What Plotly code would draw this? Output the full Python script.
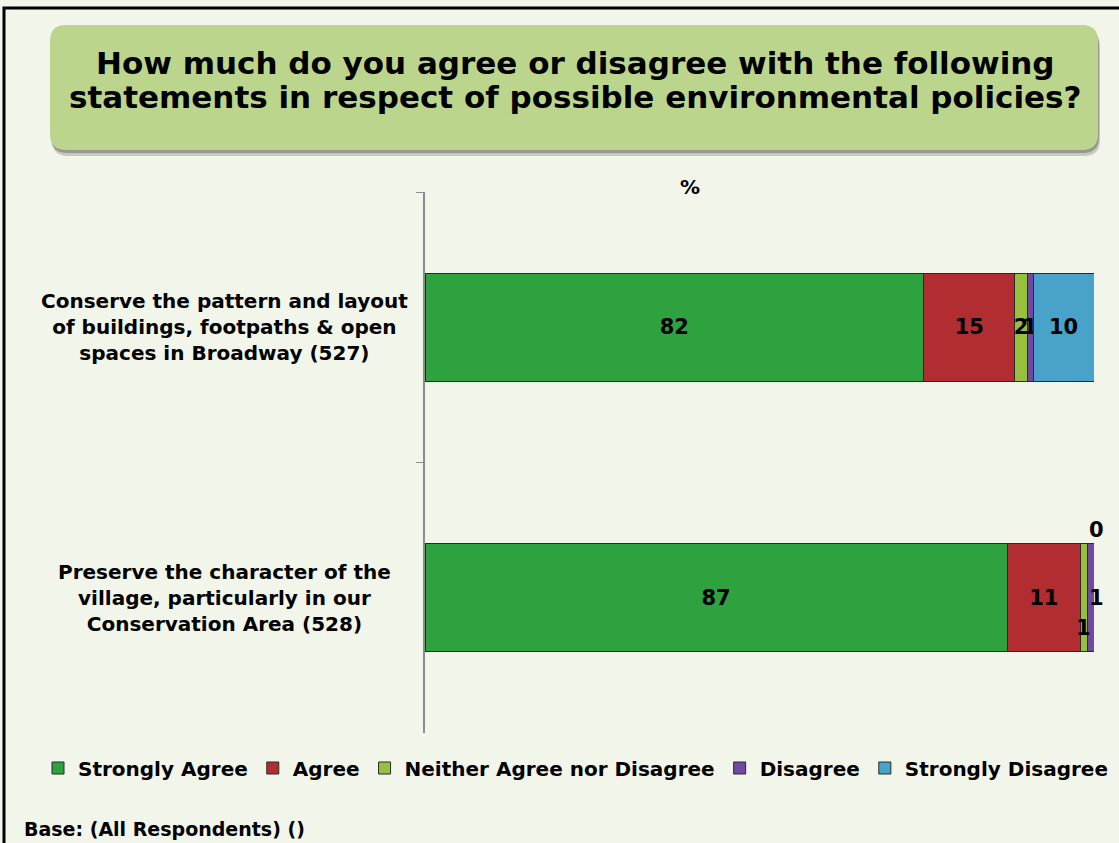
import plotly.graph_objects as go

# Survey statements and response shares (%)
statements = [
    "Conserve the pattern and layout<br>of buildings, footpaths & open<br>spaces in Broadway (527)",
    "Preserve the character of the<br>village, particularly in our<br>Conservation Area (528)",
]
responses = ["Strongly Agree", "Agree", "Neither Agree nor Disagree", "Disagree", "Strongly Disagree"]
strongly_agree = [82, 87]
agree = [15, 11]
neither = [2, 1]
disagree = [1, 1]
strongly_disagree = [10, 0]
series = [strongly_agree, agree, neither, disagree, strongly_disagree]
colors = ["#2ea23f", "#b22d31", "#97c03d", "#7149a2", "#48a2c9"]
title_lines = [
    "How much do you agree or disagree with the following",
    "statements in respect of possible environmental policies?",
]

W, H = 1119, 843
ML, MR, MT, MB = 425, 25, 192, 110
PW, PH = W - ML - MR, H - MT - MB


def px(x):
    return (x - ML) / PW


def py(y):
    return (H - MB - y) / PH


def rounded(x0, y0, x1, y1, r):
    # rounded rectangle path in paper coordinates from pixel corners
    return (f"M {px(x0 + r)},{py(y0)} L {px(x1 - r)},{py(y0)} "
            f"Q {px(x1)},{py(y0)} {px(x1)},{py(y0 + r)} "
            f"L {px(x1)},{py(y1 - r)} Q {px(x1)},{py(y1)} {px(x1 - r)},{py(y1)} "
            f"L {px(x0 + r)},{py(y1)} Q {px(x0)},{py(y1)} {px(x0)},{py(y1 - r)} "
            f"L {px(x0)},{py(y0 + r)} Q {px(x0)},{py(y0)} {px(x0 + r)},{py(y0)} Z")


FONT = "DejaVu Sans"
fig = go.Figure()

# Row 2 tiny segments get their labels as offset annotations
hide_inside = {(1, 2), (1, 3), (1, 4)}
for k, (name, vals, col) in enumerate(zip(responses, series, colors)):
    txt = ["" if (i, k) in hide_inside else str(v) for i, v in enumerate(vals)]
    fig.add_trace(go.Bar(
        name=name, y=statements, x=vals, orientation="h",
        marker=dict(color=col, line=dict(color="#2a2a2a", width=1)),
        text=txt, texttemplate="%{text}", textposition="inside",
        insidetextanchor="middle",
        textfont=dict(family=FONT, size=21, color="black", weight="bold"),
        hoverinfo="skip",
    ))

annotations = []
# offset labels for the small segments of the second statement
tot = sum(s[1] for s in series)
cum = 0
centers = []
for s in series:
    centers.append((cum + s[1] / 2) / tot * 100)
    cum += s[1]
offsets = {2: (0, -30), 3: (6, 0), 4: (2, 68)}
for k, (dx, dy) in offsets.items():
    annotations.append(dict(
        x=centers[k], y=statements[1], xref="x", yref="y", text=str(series[k][1]),
        showarrow=False, xshift=dx, yshift=dy,
        font=dict(family=FONT, size=21, color="black", weight="bold")))

# category labels, centred multi-line
for s in statements:
    annotations.append(dict(
        x=px(224), y=s, xref="paper", yref="y", text=s, showarrow=False,
        xanchor="center", align="center",
        font=dict(family=FONT, size=20, color="black", weight="bold")))

for line, yc in zip(title_lines, [63, 97]):
    annotations.append(dict(
        x=px(575), y=py(yc), xref="paper", yref="paper", showarrow=False, text=line,
        xanchor="center", yanchor="middle",
        font=dict(family=FONT, size=31, color="black", weight="bold")))

annotations += [
    dict(x=px(690), y=py(187), xref="paper", yref="paper", showarrow=False, text="%",
         xanchor="center", yanchor="middle",
         font=dict(family=FONT, size=20, color="black", weight="bold")),
    dict(x=px(22), y=py(829), xref="paper", yref="paper", showarrow=False,
         text="Base: (All Respondents) ()", xanchor="left", yanchor="middle",
         font=dict(family=FONT, size=19, color="black", weight="bold")),
]

shapes = [
    # page frame
    dict(type="rect", xref="paper", yref="paper", x0=px(4), y0=py(8), x1=px(1140), y1=py(870),
         line=dict(color="black", width=3), layer="below"),
    # title panel shadow and panel
    dict(type="path", xref="paper", yref="paper", path=rounded(52, 31, 1100, 156, 16),
         fillcolor="rgba(70,70,70,0.25)", line=dict(width=0), layer="below"),
    dict(type="path", xref="paper", yref="paper", path=rounded(51, 28, 1099, 153, 16),
         fillcolor="rgba(60,60,60,0.35)", line=dict(width=0), layer="below"),
    dict(type="path", xref="paper", yref="paper", path=rounded(50, 25, 1098, 150, 16),
         fillcolor="#bbd68c", line=dict(width=0), layer="below"),
]

fig.update_layout(
    width=W, height=H,
    margin=dict(l=ML, r=MR, t=MT, b=MB, autoexpand=False),
    paper_bgcolor="#f2f5e9", plot_bgcolor="#f2f5e9",
    barmode="stack", barnorm="percent", bargap=0.6,
    showlegend=True,
    legend=dict(orientation="h", xref="paper", yref="paper",
                x=px(38), xanchor="left", y=py(768), yanchor="middle",
                font=dict(family=FONT, size=20, color="black", weight="bold"),
                bgcolor="rgba(0,0,0,0)", itemwidth=30, traceorder="normal"),
    uniformtext=dict(minsize=21, mode="show"),
    xaxis=dict(range=[0, 100], visible=False, fixedrange=True),
    yaxis=dict(autorange="reversed", showticklabels=False, showline=True, linecolor="#8c8c8c",
               linewidth=1.5, ticks="outside", tickson="boundaries", ticklen=7,
               tickcolor="#8c8c8c", showgrid=False, zeroline=False),
    annotations=annotations, shapes=shapes,
)

fig.write_html("out.html")
